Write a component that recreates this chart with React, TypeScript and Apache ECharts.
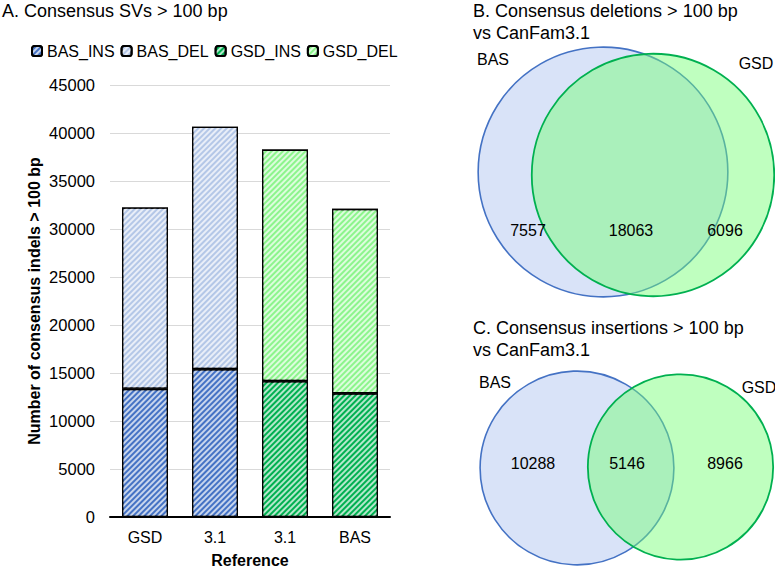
import React, { useEffect, useRef } from 'react';
import * as echarts from 'echarts';

const categories = ['GSD', '3.1', '3.1', 'BAS'];
const basIns: (number | string)[] = [13350, 15400, '-', '-'];
const basDel: (number | string)[] = [18900, 25250, '-', '-'];
const gsdIns: (number | string)[] = ['-', '-', 14150, 12880];
const gsdDel: (number | string)[] = ['-', '-', 24120, 19220];
const yTicks = { min: 0, max: 45000, interval: 5000 };

// Venn counts
const delCounts = { basOnly: 7557, shared: 18063, gsdOnly: 6096 };
const insCounts = { basOnly: 10288, shared: 5146, gsdOnly: 8966 };

const FONT = 'Liberation Sans, Arial, Helvetica, sans-serif';
const BLUE = '#4472C4';
const GREEN = '#00B050';

const decal = {
  symbol: 'rect',
  symbolSize: 1,
  dashArrayX: [1, 0],
  dashArrayY: [2, 2],
  rotation: -Math.PI / 4,
  color: 'rgba(255,255,255,0.7)',
};

function barSeries(name: string, data: (number | string)[], color: string) {
  return {
    name,
    type: 'bar',
    stack: 'total',
    data,
    barWidth: 46,
    itemStyle: { color, borderColor: '#000', borderWidth: 1.3, decal },
  };
}

function venn(
  counts: { basOnly: number; shared: number; gsdOnly: number },
  basC: [number, number],
  gsdC: [number, number],
  labelY: number,
  labelX: [number, number, number],
  basLbl: [number, number],
  gsdLbl: [number, number]
) {
  const k = 0.78;
  const rBas = k * Math.sqrt(counts.basOnly + counts.shared);
  const rGsd = k * Math.sqrt(counts.gsdOnly + counts.shared);
  const txt = (x: number, y: number, t: string) => ({
    type: 'text',
    x,
    y,
    z: 10,
    style: { text: t, font: `16px ${FONT}`, fill: '#000', align: 'center', verticalAlign: 'middle' },
  });
  return [
    {
      type: 'circle',
      shape: { cx: basC[0], cy: basC[1], r: rBas },
      style: { fill: '#D9E3F8', stroke: BLUE, lineWidth: 1.6 },
      z: 1,
    },
    {
      type: 'circle',
      shape: { cx: gsdC[0], cy: gsdC[1], r: rGsd },
      style: { fill: 'rgba(115,255,115,0.46)', stroke: GREEN, lineWidth: 1.8 },
      z: 2,
    },
    txt(labelX[0], labelY, String(counts.basOnly)),
    txt(labelX[1], labelY, String(counts.shared)),
    txt(labelX[2], labelY, String(counts.gsdOnly)),
    txt(basLbl[0], basLbl[1], 'BAS'),
    txt(gsdLbl[0], gsdLbl[1], 'GSD'),
  ];
}

function title(x: number, y: number, t: string) {
  return {
    type: 'text',
    x,
    y,
    style: { text: t, font: `18px ${FONT}`, fill: '#000', align: 'left', verticalAlign: 'middle' },
  };
}

export default function App() {
  const ref = useRef<HTMLDivElement>(null);
  useEffect(() => {
    if (!ref.current) return;
    const chart = echarts.init(ref.current, undefined, { renderer: 'svg' });
    chart.setOption({
      animation: false,
      textStyle: { fontFamily: FONT },
      legend: {
        left: 26,
        top: 38,
        itemWidth: 10,
        itemHeight: 10,
        itemGap: 6,
        textStyle: { fontSize: 16, color: '#000', fontFamily: FONT },
        data: ['BAS_INS', 'BAS_DEL', 'GSD_INS', 'GSD_DEL'],
      },
      grid: {
        left: 110,
        right: 385,
        top: 85,
        bottom: 50,
        containLabel: false,
        outerBoundsMode: 'none',
      },
      xAxis: {
        type: 'category',
        data: categories,
        name: 'Reference',
        nameLocation: 'middle',
        nameGap: 35,
        nameTextStyle: { fontSize: 16, fontWeight: 'bold', color: '#000' },
        axisLine: { lineStyle: { color: '#000', width: 2 } },
        axisTick: { show: false },
        axisLabel: { fontSize: 16, color: '#000', margin: 12 },
      },
      yAxis: {
        type: 'value',
        min: yTicks.min,
        max: yTicks.max,
        interval: yTicks.interval,
        name: 'Number of consensus indels > 100 bp',
        nameLocation: 'middle',
        nameGap: 68,
        nameTextStyle: { fontSize: 16, fontWeight: 'bold', color: '#000' },
        axisLine: { show: false },
        axisTick: { show: false },
        axisLabel: { fontSize: 16.5, color: '#000', margin: 15, formatter: (v: number) => String(v) },
        splitLine: { lineStyle: { color: '#D9D9D9', width: 1 } },
      },
      series: [
        barSeries('BAS_INS', basIns, BLUE),
        barSeries('BAS_DEL', basDel, '#B4C7E7'),
        barSeries('GSD_INS', gsdIns, GREEN),
        barSeries('GSD_DEL', gsdDel, '#8CF58C'),
      ],
      graphic: [
        title(2, 11, 'A. Consensus SVs > 100 bp'),
        title(473, 11, 'B. Consensus deletions > 100 bp'),
        title(473, 33, 'vs CanFam3.1'),
        title(473, 328, 'C. Consensus insertions > 100 bp'),
        title(473, 350, 'vs CanFam3.1'),
        ...venn(delCounts, [603, 172], [653, 175], 230, [528, 631, 725], [493, 59], [756, 63]),
        ...venn(insCounts, [577, 468], [680.5, 467], 463, [533, 627, 725], [495, 382], [759, 387]),
      ],
    });
    return () => chart.dispose();
  }, []);
  return (
    <div
      ref={ref}
      style={{ position: 'fixed', left: 0, top: 0, width: 775, height: 567, background: '#fff' }}
    />
  );
}
